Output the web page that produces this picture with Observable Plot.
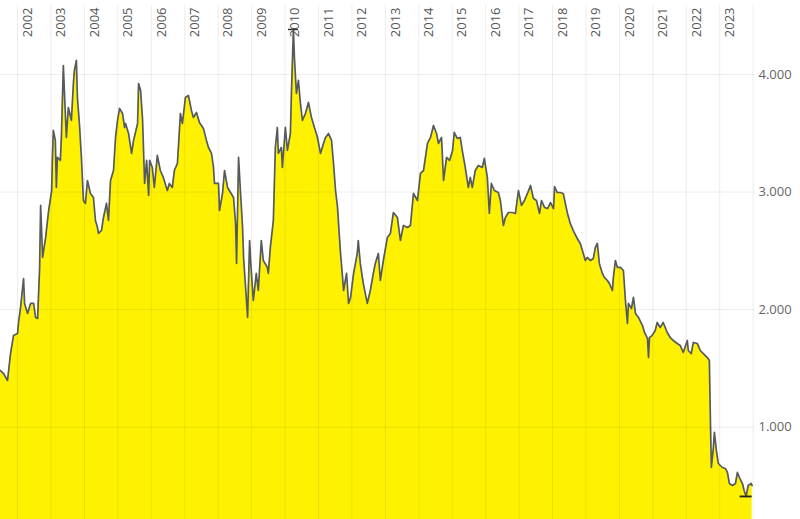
<!DOCTYPE html>
<html><head><meta charset="utf-8">
<script src="https://cdn.jsdelivr.net/npm/d3@7"></script>
<script src="https://cdn.jsdelivr.net/npm/@observablehq/plot@0.6"></script>
<style>html,body{margin:0;padding:0;background:#fff;} svg{display:block}</style>
</head><body><div id="chart"></div>
<script>
// decimal years
const years = [
2001.49,2001.58,2001.70,2001.79,2001.88,2002.00,2002.03,2002.09,2002.18,2002.21,2002.30,2002.39,2002.48,2002.54,2002.60,2002.66,2002.69,2002.75,2002.84,2002.93,
2003.02,2003.04,2003.07,2003.13,2003.16,2003.19,2003.28,2003.31,2003.37,2003.40,2003.46,2003.52,2003.61,2003.67,2003.70,2003.76,2003.79,2003.85,2003.91,2003.97,
2004.03,2004.09,2004.18,2004.27,2004.33,2004.39,2004.42,2004.51,2004.57,2004.66,2004.72,2004.78,2004.87,2004.93,2004.99,2005.05,2005.14,2005.20,
2005.23,2005.32,2005.41,2005.47,2005.59,2005.62,2005.68,2005.74,2005.80,2005.86,2005.92,2005.95,2006.03,2006.09,2006.18,2006.27,2006.36,2006.48,2006.54,2006.63,
2006.69,2006.78,2006.81,2006.87,2006.93,2007.02,2007.11,2007.20,2007.26,2007.35,2007.44,2007.56,2007.65,2007.71,2007.80,2007.86,2007.89,2008.01,2008.04,2008.13,
2008.19,2008.28,2008.37,2008.46,2008.52,2008.55,2008.61,2008.67,2008.73,2008.76,2008.82,2008.88,2008.94,
2008.97,2009.05,2009.14,2009.20,2009.29,2009.35,2009.47,2009.50,2009.56,2009.65,2009.71,2009.77,2009.80,2009.89,2009.92,2010.01,2010.07,2010.16,2010.19,2010.25,
2010.28,2010.34,2010.40,2010.46,2010.52,2010.61,2010.70,2010.79,2010.88,2010.97,2011.06,2011.15,2011.21,2011.30,2011.39,2011.45,2011.51,2011.57,2011.60,2011.66,
2011.72,2011.75,2011.84,2011.90,2011.96,2012.05,2012.16,2012.19,2012.25,2012.34,2012.40,2012.46,2012.55,2012.64,
2012.70,2012.79,2012.85,2012.94,2013.06,2013.15,2013.24,2013.36,2013.45,2013.54,2013.66,2013.75,2013.84,2013.96,2014.05,2014.14,2014.26,2014.35,2014.44,2014.53,
2014.59,2014.68,2014.74,2014.83,2014.92,2015.01,2015.06,2015.15,2015.24,2015.30,2015.39,2015.48,2015.54,2015.60,2015.69,2015.78,2015.90,2015.96,2016.05,2016.11,
2016.17,2016.26,2016.38,
2016.44,2016.53,2016.59,2016.68,2016.80,2016.89,2016.98,2017.07,2017.16,2017.25,2017.34,2017.43,2017.52,2017.61,2017.67,2017.76,2017.85,2017.94,2018.03,2018.06,
2018.14,2018.23,2018.32,2018.44,2018.53,2018.62,2018.74,2018.83,2018.92,2018.98,2019.04,2019.13,2019.22,2019.28,2019.34,2019.40,2019.49,2019.55,2019.64,2019.70,
2019.79,2019.82,2019.88,2019.94,
2020.03,2020.12,2020.18,2020.24,2020.27,2020.36,2020.42,2020.48,2020.57,2020.69,2020.75,2020.84,2020.87,2020.90,2020.98,2021.07,2021.13,2021.22,2021.31,2021.43,
2021.52,2021.61,2021.73,2021.82,2021.91,2022.03,2022.06,2022.15,2022.21,2022.33,2022.42,2022.51,2022.63,2022.69,2022.72,2022.75,2022.81,2022.84,2022.90,2022.96,
2023.08,2023.17,2023.23,2023.29,2023.38,2023.47,2023.53,2023.59,2023.68,2023.73,2023.79,2023.85,2023.94,2023.97
];
const prices = [
1483,1457,1398,1627,1781,1798,1891,2019,2265,2053,1968,2053,2053,1934,1925,2359,2886,2444,2614,2843,
3013,3269,3524,3439,3039,3294,3269,3464,4076,3864,3464,3719,3609,3923,4034,4119,3804,3583,3294,2928,
2903,3098,2988,2954,2758,2699,2648,2673,2784,2903,2758,3098,3183,3464,3609,3711,3668,3549,
3583,3498,3328,3439,3583,3923,3864,3609,3073,3269,2971,3269,3209,3039,3311,3183,3124,3013,3073,3039,
3183,3243,3379,3668,3583,3804,3821,3694,3634,3677,3592,3541,3439,3379,3328,3209,3073,3073,2843,2988,
3183,3039,2996,2954,2733,2393,3294,2988,2699,2444,2189,1934,2588,
2418,2078,2308,2163,2588,2418,2359,2308,2529,2758,3379,3549,3328,3379,3209,3549,3354,3498,3838,4382,
4144,3838,3949,3753,3609,3668,3762,3634,3549,3464,3328,3413,3464,3498,3439,3243,3013,2869,2733,2478,
2274,2163,2308,2053,2104,2308,2478,2588,2393,2223,2138,2053,2163,2308,
2393,2478,2248,2418,2614,2648,2826,2784,2588,2716,2699,2716,2988,2928,3158,3183,3413,3464,3566,3498,
3413,3464,3098,3294,3269,3354,3507,3456,3464,3354,3209,3039,3124,3039,3183,3226,3209,3286,3124,2818,
3073,3013,2996,
2928,2716,2784,2826,2826,2818,3013,2886,2928,2988,3056,2945,2928,2818,2928,2869,2860,2911,2860,3047,
2996,2996,2988,2826,2733,2673,2605,2563,2478,2418,2444,2418,2435,2529,2563,2393,2308,2274,2248,2223,
2163,2274,2418,2359,
2359,2333,2078,1883,2053,2010,2104,1968,1934,1865,1806,1755,1593,1763,1781,1823,1891,1848,1891,1806,
1763,1738,1712,1695,1636,1738,1653,1627,1721,1712,1653,1627,1593,1568,1083,658,828,956,803,692,
658,650,616,522,505,522,616,573,522,463,412,505,522,505
];
const yearTicks = d3.range(2002, 2024);
const gridYears = d3.range(2002, 2025);
const priceTicks = [1000, 2000, 3000, 4000];
const xDomain = [2001.49, 2024.04];
const yDomain = [216, 4586];

const data = years.map((t, i) => ({t, v: prices[i]}));
const maxPt = data.reduce((a, b) => (b.v > a.v ? b : a));
const minPt = data.reduce((a, b) => (b.v < a.v ? b : a));
const fmt = d => d3.format(",")(d).replace(/,/g, ".");

const chart = Plot.plot({
  width: 800,
  height: 519,
  marginTop: 5,
  marginBottom: 0,
  marginLeft: 0,
  marginRight: 46,
  x: {domain: xDomain, axis: null},
  y: {domain: yDomain, axis: null},
  style: {fontFamily: "'Open Sans', sans-serif", background: "#fff"},
  marks: [
    Plot.areaY(data, {x: "t", y1: yDomain[0], y2: "v", fill: "#fff200", clip: true}),
    Plot.ruleY(priceTicks, {stroke: "#000", strokeOpacity: 0.075}),
    Plot.ruleX(gridYears, {stroke: "#000", strokeOpacity: 0.075}),
    Plot.lineY(data, {x: "t", y: "v", stroke: "#555a60", strokeWidth: 1.7, strokeLinejoin: "round"}),
    Plot.ruleY([maxPt], {y: "v", x1: d => d.t - 0.15, x2: d => d.t + 0.15, stroke: "#333", strokeWidth: 1.5}),
    Plot.ruleY([minPt], {y: "v", x1: d => d.t - 0.18, x2: d => d.t + 0.18, stroke: "#222", strokeWidth: 1.8}),
    Plot.text(yearTicks, {x: d => d, frameAnchor: "top", rotate: -90, textAnchor: "end", dx: 5, dy: 2, text: d => String(d), fontSize: 13, fill: "#555"}),
    Plot.axisY(priceTicks, {anchor: "right", tickSize: 0, tickPadding: 4, tickFormat: fmt, fontSize: 13, fill: "#666", label: null})
  ]
});
document.getElementById("chart").appendChild(chart);
</script>
</body></html>
